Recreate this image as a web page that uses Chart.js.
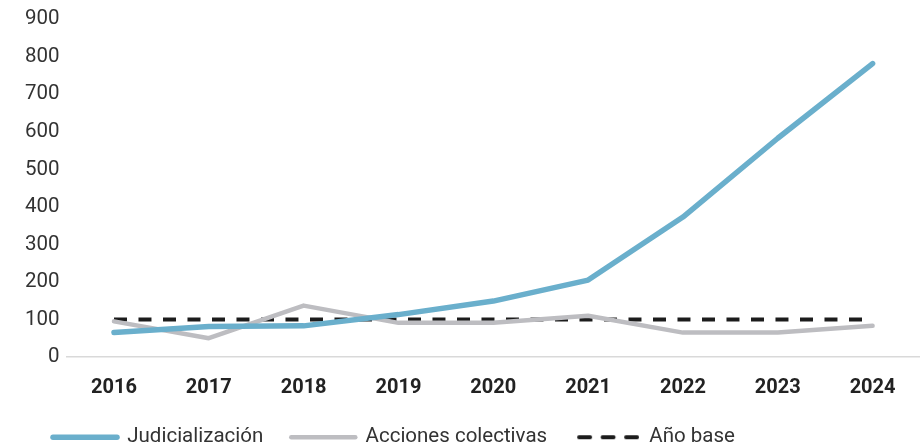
<!DOCTYPE html>
<html>
<head>
<meta charset="utf-8">
<script src="https://cdn.jsdelivr.net/npm/chart.js@4"></script>
<style>
  html, body { margin: 0; padding: 0; background: #fff; }
  #wrap { position: relative; width: 920px; height: 446px; }
</style>
</head>
<body>
<div id="wrap"><canvas id="chart"></canvas></div>
<script>
"use strict";

// Chart data
const years = ["2016", "2017", "2018", "2019", "2020", "2021", "2022", "2023", "2024"];
const judicializacion = [65, 81, 83, 113, 149, 205, 373, 583, 782];
const accionesColectivas = [95, 50, 137, 91, 91, 110, 65, 65, 83];
const anoBase = [100, 100, 100, 100, 100, 100, 100, 100, 100];

const FONT = "Roboto, 'DejaVu Sans', sans-serif";
const TEXT = "#333333";
const DASH_COLOR = "#1c1c1c";

// Small dashed swatch for the legend (point styles ignore the dataset dash)
function dashedSwatch() {
  const c = document.createElement("canvas");
  c.width = 64;
  c.height = 8;
  const ctx = c.getContext("2d");
  ctx.strokeStyle = DASH_COLOR;
  ctx.lineWidth = 4;
  ctx.lineCap = "round";
  ctx.setLineDash([11, 12.5]);
  ctx.beginPath();
  ctx.moveTo(4, 4);
  ctx.lineTo(62, 4);
  ctx.stroke();
  return c;
}

// Legend sits tighter under the axis than Chart.js would place it
const legendTweak = {
  id: "legendTweak",
  beforeInit(chart) {
    const legend = chart.legend;
    const origFit = legend.fit;
    legend.fit = function () {
      origFit.call(this);
      this.height = 47;
    };
  },
  afterLayout(chart) {
    chart.legend.left += 7;
  },
};

const swatch = dashedSwatch();

new Chart(document.getElementById("chart"), {
  type: "line",
  data: {
    labels: years,
    datasets: [
      {
        label: "Judicialización",
        data: judicializacion,
        borderColor: "#6aafcc",
        backgroundColor: "#6aafcc",
        borderWidth: 5.5,
        borderCapStyle: "round",
        borderJoinStyle: "round",
        pointRadius: 0,
        tension: 0,
      },
      {
        label: "Acciones colectivas",
        data: accionesColectivas,
        borderColor: "#bdbdc1",
        backgroundColor: "#bdbdc1",
        borderWidth: 4.5,
        borderCapStyle: "round",
        borderJoinStyle: "round",
        pointRadius: 0,
        tension: 0,
      },
      {
        label: "Año base",
        data: anoBase,
        borderColor: DASH_COLOR,
        backgroundColor: DASH_COLOR,
        borderWidth: 4,
        borderDash: [13, 11.5],
        pointRadius: 0,
        tension: 0,
      },
    ],
  },
  options: {
    responsive: true,
    maintainAspectRatio: false,
    animation: false,
    layout: { padding: { left: 18, right: 0, top: 13, bottom: 0 } },
    plugins: {
      tooltip: { enabled: false },
      legend: {
        position: "bottom",
        align: "start",
        labels: {
          usePointStyle: true,
          pointStyle: "line",
          pointStyleWidth: 64,
          padding: 28,
          color: TEXT,
          font: { family: FONT, size: 20.5 },
          generateLabels(chart) {
            const items = Chart.defaults.plugins.legend.labels.generateLabels(chart);
            items.forEach((item) => {
              const ds = chart.data.datasets[item.datasetIndex];
              if (ds.borderDash) {
                item.pointStyle = swatch;
              } else {
                item.pointStyle = "line";
                item.lineCap = "round";
              }
            });
            return items;
          },
        },
      },
    },
    scales: {
      x: {
        offset: true,
        afterFit: (scale) => { scale.height = 42; },
        grid: { display: false, drawTicks: false },
        border: { display: true, color: "#d9d9d9", width: 1.5 },
        ticks: {
          color: "#222",
          padding: 19,
          font: { family: FONT, size: 20, weight: "bold" },
          maxRotation: 0,
        },
      },
      y: {
        min: 0,
        max: 900,
        grid: { display: false, drawTicks: false },
        border: { display: false },
        ticks: {
          stepSize: 100,
          padding: 7,
          color: TEXT,
          font: { family: FONT, size: 20.5 },
        },
      },
    },
  },
  plugins: [legendTweak],
});
</script>
</body>
</html>
